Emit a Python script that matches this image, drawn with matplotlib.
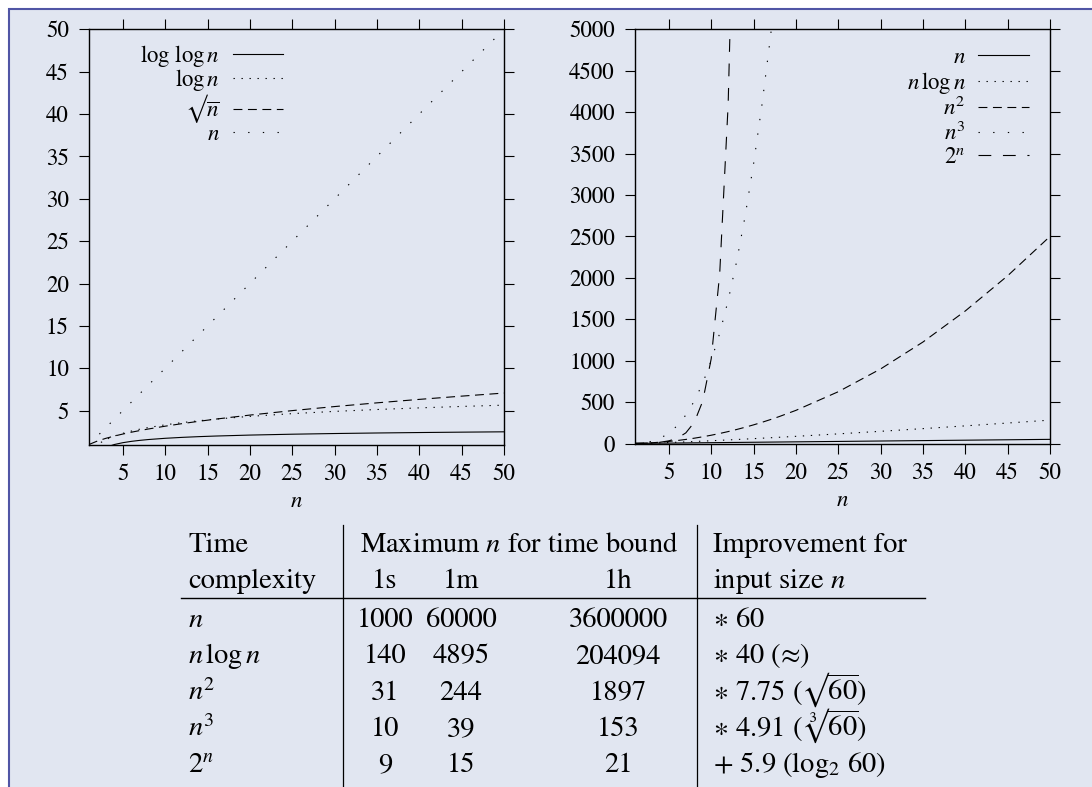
import matplotlib.pyplot as plt
from matplotlib.patches import Rectangle
from matplotlib.lines import Line2D

plt.rcParams['font.family'] = 'STIXGeneral'
plt.rcParams['mathtext.fontset'] = 'stix'

nan = float('nan')

# --- left chart: slowly growing functions ---
n_small = [1, 2, 3, 4, 5, 6, 7, 8, 10, 12, 14, 16, 20, 25, 30, 35, 40, 45, 50]
loglog_n = [nan, 0.0, 0.664, 1.0, 1.215, 1.37, 1.489, 1.585, 1.732, 1.842, 1.929,
            2.0, 2.112, 2.215, 2.295, 2.359, 2.412, 2.457, 2.497]
log_n = [0.0, 1.0, 1.585, 2.0, 2.322, 2.585, 2.807, 3.0, 3.322, 3.585, 3.807,
         4.0, 4.322, 4.644, 4.907, 5.129, 5.322, 5.492, 5.644]
sqrt_n = [1.0, 1.414, 1.732, 2.0, 2.236, 2.449, 2.646, 2.828, 3.162, 3.464, 3.742,
          4.0, 4.472, 5.0, 5.477, 5.916, 6.325, 6.708, 7.071]
lin_n = [1, 2, 3, 4, 5, 6, 7, 8, 10, 12, 14, 16, 20, 25, 30, 35, 40, 45, 50]

# --- right chart: fast growing functions ---
n_big = [1, 2, 3, 4, 5, 6, 7, 8, 9, 10, 11, 12, 13, 14, 15, 16, 17, 18,
         20, 25, 30, 35, 40, 45, 50]
lin_big = [1, 2, 3, 4, 5, 6, 7, 8, 9, 10, 11, 12, 13, 14, 15, 16, 17, 18,
           20, 25, 30, 35, 40, 45, 50]
nlogn = [0, 2, 4.75, 8, 11.61, 15.51, 19.65, 24, 28.53, 33.22, 38.05, 43.02,
         48.11, 53.3, 58.6, 64, 69.49, 75.06, 86.44, 116.1, 147.2, 179.5,
         212.9, 247.1, 282.2]
n_sq = [1, 4, 9, 16, 25, 36, 49, 64, 81, 100, 121, 144, 169, 196, 225, 256,
        289, 324, 400, 625, 900, 1225, 1600, 2025, 2500]
n_cube_x = [1, 2, 3, 4, 5, 6, 7, 8, 9, 10, 11, 12, 13, 14, 15, 16, 17, 18]
n_cube = [1, 8, 27, 64, 125, 216, 343, 512, 729, 1000, 1331, 1728, 2197,
          2744, 3375, 4096, 4913, 5832]
exp_x = [1, 2, 3, 4, 5, 6, 7, 8, 9, 10, 11, 12, 13]
exp_2n = [2, 4, 8, 16, 32, 64, 128, 256, 512, 1024, 2048, 4096, 8192]

# --- table ---
complexities = [r'$n$', r'$n\,\log n$', r'$n^2$', r'$n^3$', r'$2^n$']
max_1s = [1000, 140, 31, 10, 9]
max_1m = [60000, 4895, 244, 39, 15]
max_1h = [3600000, 204094, 1897, 153, 21]
improvement = [r'$\ast$ 60', r'$\ast$ 40 (≈)', r'$\ast$ 7.75 (√$\overline{60}$)',
               r'$\ast$ 4.91 (∛$\overline{60}$)', r'+ 5.9 (log$_2$ 60)']

BG = '#e1e6f1'
FRAME = '#5055a5'
W, H = 1092, 787

def fx(x):
    return x / W

def fy(y):
    return 1 - y / H

fig = plt.figure(figsize=(10.92, 7.87), dpi=100, facecolor='white')
fig.patches.append(Rectangle((fx(9), -0.05), 1.1, fy(9) + 0.05,
                             transform=fig.transFigure, facecolor=BG,
                             edgecolor=FRAME, lw=1.5, zorder=-10))

ax1 = fig.add_axes([fx(89), fy(444.5), 415 / W, 415.2 / H])
ax2 = fig.add_axes([fx(635), fy(443.5), 415 / W, 414.2 / H])

fine_dot = (0, (1.2, 6))
sparse_dot = (0, (1.2, 12))
dashed = (0, (8, 5))
long_dash = (0, (11.5, 10.5))
lw = 0.8

ax1.plot(n_small, loglog_n, color='black', lw=lw, ls='-', label=r'$\log\,\log n$')
ax1.plot(n_small, log_n, color='black', lw=lw, ls=fine_dot, label=r'$\log n$')
ax1.plot(n_small, sqrt_n, color='black', lw=lw, ls=dashed, label=r'√$\overline{n}$')
ax1.plot(n_small, lin_n, color='black', lw=lw, ls=sparse_dot, label=r'$n$')
ax1.set_xlim(1, 50)
ax1.set_ylim(1, 50)
ax1.set_xticks(range(5, 51, 5))
ax1.set_yticks(range(5, 51, 5))

ax2.plot(n_big, lin_big, color='black', lw=lw, ls='-', label=r'$n$')
ax2.plot(n_big, nlogn, color='black', lw=lw, ls=fine_dot, label=r'$n\,\log n$')
ax2.plot(n_big, n_sq, color='black', lw=lw, ls=dashed, label=r'$n^2$')
ax2.plot(n_cube_x, n_cube, color='black', lw=lw, ls=sparse_dot, label=r'$n^3$')
ax2.plot(exp_x, exp_2n, color='black', lw=lw, ls=long_dash, label=r'$2^n$')
ax2.set_xlim(1, 50)
ax2.set_ylim(0, 5000)
ax2.set_xticks(range(5, 51, 5))
ax2.set_yticks(range(0, 5001, 500))

for ax, anchor, spacing in [(ax1, (0.4675, 0.968), -0.06), (ax2, (0.949, 0.958), 0.07)]:
    ax.set_facecolor(BG)
    for s in ax.spines.values():
        s.set_linewidth(1.0)
    ax.tick_params(direction='out', length=7.5, width=0.8, top=True, right=True,
                   labelsize=16.5)
    ax.tick_params(axis='y', pad=7)
    ax.tick_params(axis='x', pad=6)
    ax.set_xlabel(r'$n$', fontsize=16.5, labelpad=4)
    ax.legend(loc='upper right', bbox_to_anchor=anchor, frameon=False,
              markerfirst=False, fontsize=16.5, handlelength=2.2,
              handletextpad=0.55, labelspacing=spacing, borderpad=0,
              borderaxespad=0)

# --- table drawing ---
TFS = 20.5
fig.add_artist(Line2D([fx(181), fx(925)], [fy(598), fy(598)], color='black', lw=1.0))
for xv in (343, 697):
    fig.add_artist(Line2D([fx(xv), fx(xv)], [fy(525), 0], color='black', lw=0.9))

col1_x, c1s, c1m, c1h, imp_x = 188, 385, 461, 618, 713
fig.text(fx(col1_x), fy(552), 'Time', fontsize=TFS, ha='left', va='baseline')
fig.text(fx(col1_x), fy(588), 'complexity', fontsize=TFS, ha='left', va='baseline')
fig.text(fx(519), fy(552), r'Maximum $n$ for time bound', fontsize=TFS,
         ha='center', va='baseline')
for xv, lab in [(c1s, '1s'), (c1m, '1m'), (c1h, '1h')]:
    fig.text(fx(xv), fy(588), lab, fontsize=TFS, ha='center', va='baseline')
fig.text(fx(imp_x), fy(552), 'Improvement for', fontsize=TFS, ha='left', va='baseline')
fig.text(fx(imp_x), fy(588), r'input size $n$', fontsize=TFS, ha='left', va='baseline')

row_base = [627, 663, 700, 736, 772]
for i, yb in enumerate(row_base):
    fig.text(fx(col1_x), fy(yb), complexities[i], fontsize=TFS, ha='left', va='baseline')
    fig.text(fx(c1s), fy(yb), str(max_1s[i]), fontsize=TFS, ha='center', va='baseline')
    fig.text(fx(c1m), fy(yb), str(max_1m[i]), fontsize=TFS, ha='center', va='baseline')
    fig.text(fx(c1h), fy(yb), str(max_1h[i]), fontsize=TFS, ha='center', va='baseline')
    fig.text(fx(imp_x), fy(yb), improvement[i], fontsize=TFS, ha='left', va='baseline')

fig.savefig('out.png', dpi=100, facecolor='white')
